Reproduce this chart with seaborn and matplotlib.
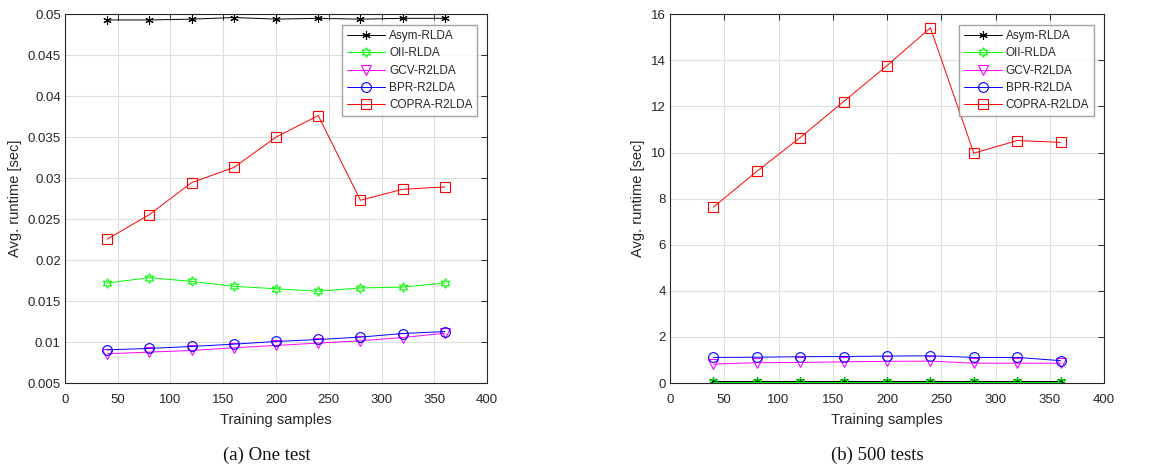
import numpy as np
import pandas as pd
import matplotlib
matplotlib.use("Agg")
import matplotlib.pyplot as plt
import seaborn as sns
from matplotlib.ticker import FuncFormatter

sns.set_theme(style="white")
plt.rcParams['font.family'] = ['Liberation Sans', 'DejaVu Sans']

samples = [40, 80, 120, 160, 200, 240, 280, 320, 360]
methods = ["Asym-RLDA", "OII-RLDA", "GCV-R2LDA", "BPR-R2LDA", "COPRA-R2LDA"]

# (a) One test
one_asym = [0.0493, 0.0493, 0.0494, 0.0496, 0.0494, 0.0495, 0.0494, 0.0495, 0.0495]
one_oii = [0.0172, 0.01785, 0.0174, 0.0168, 0.0165, 0.0162, 0.0166, 0.0167, 0.0172]
one_gcv = [0.00857, 0.00877, 0.00897, 0.0093, 0.00958, 0.00987, 0.01015, 0.01055, 0.01108]
one_bpr = [0.00905, 0.00922, 0.00946, 0.00974, 0.01007, 0.01031, 0.0106, 0.01104, 0.01128]
one_copra = [0.02255, 0.02555, 0.02945, 0.0313, 0.035, 0.03764, 0.0273, 0.02864, 0.02892]

# (b) 500 tests
many_asym = [0.08] * 9
many_oii = [0.06] * 9
many_gcv = [0.82, 0.88, 0.89, 0.92, 0.94, 0.95, 0.86, 0.86, 0.86]
many_bpr = [1.11, 1.12, 1.14, 1.15, 1.17, 1.18, 1.11, 1.11, 0.97]
many_copra = [7.63, 9.18, 10.65, 12.21, 13.77, 15.41, 9.97, 10.52, 10.44]

colors = ["#000000", "#00FF00", "#FF00FF", "#0000FF", "#FF0000"]
markers = [(6, 2, 0), (6, 1, 0), "v", "o", "s"]
msizes = [6, 7, 7.5, 7, 6.5]

fig = plt.figure(figsize=(11.64, 4.68), dpi=100)
ax1 = fig.add_axes([0.0558, 0.1816, 0.3626, 0.788])
ax2 = fig.add_axes([0.5756, 0.1816, 0.3729, 0.788])

def draw(ax, series, ylim, yticks, fmt, caption, cx):
    for name, vals, c, m, ms in zip(methods, series, colors, markers, msizes):
        df = pd.DataFrame({"x": samples, "y": vals})
        sns.lineplot(data=df, x="x", y="y", ax=ax, color=c, marker=m,
                     markersize=ms, markerfacecolor="none", markeredgecolor=c,
                     markeredgewidth=0.8, linewidth=0.7, label=name)
    ax.set_xlim(0, 400)
    ax.set_xticks(range(0, 401, 50))
    ax.set_ylim(*ylim)
    ax.set_yticks(yticks)
    ax.yaxis.set_major_formatter(fmt)
    ax.grid(True, color="#DEDEDE", linewidth=0.8)
    ax.set_axisbelow(True)
    for s in ax.spines.values():
        s.set_color("#262626")
        s.set_linewidth(0.8)
    ax.tick_params(direction="in", top=True, right=True, length=4,
                   width=0.7, color="#262626", labelsize=9.5,
                   labelcolor="#262626")
    ax.tick_params(axis="x", pad=8)
    ax.tick_params(axis="y", pad=3)
    ax.set_xlabel("Training samples", fontsize=10.5, color="#262626", labelpad=5)
    ax.set_ylabel("Avg. runtime [sec]", fontsize=10.5, color="#262626", labelpad=4)
    leg = ax.legend(loc="upper right", bbox_to_anchor=(0.977, 0.97),
                    fontsize=8.5, frameon=True, fancybox=False,
                    edgecolor="#8c8c8c", handlelength=3.2, borderpad=0.4,
                    labelspacing=0.45, handletextpad=0.35, borderaxespad=0)
    leg.get_frame().set_linewidth(1.0)
    fig.text(cx, 0.027, caption, ha="center", va="center", fontsize=13.5,
             family=["Liberation Serif", "DejaVu Serif"], color="#111111")

draw(ax1, [one_asym, one_oii, one_gcv, one_bpr, one_copra], (0.005, 0.05),
     np.arange(0.005, 0.0501, 0.005), FuncFormatter(lambda v, p: "%g" % round(v, 4)),
     "(a) One test", 0.229)
draw(ax2, [many_asym, many_oii, many_gcv, many_bpr, many_copra], (0, 16),
     range(0, 17, 2), FuncFormatter(lambda v, p: "%g" % v),
     "(b) 500 tests", 0.754)

fig.savefig("out.png", dpi=100, facecolor="white")
